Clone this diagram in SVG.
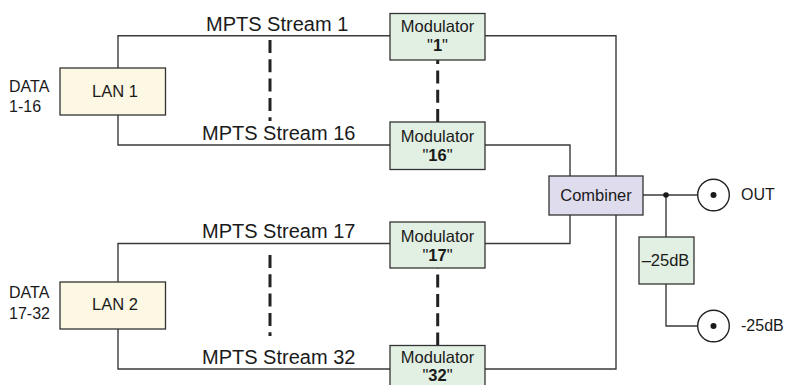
<svg xmlns="http://www.w3.org/2000/svg" width="785" height="385" viewBox="0 0 785 385">
<style>
text{font-family:"Liberation Sans",Arial,sans-serif;fill:#1a1a1a}
.box{stroke:#333;stroke-width:1.3}
.mod{fill:#e1f0e3}
.lan{fill:#fcf8e3}
.comb{fill:#dfdcee}
.t{font-size:16.5px;text-anchor:middle}
.b{font-weight:bold}
.lbl{font-size:16px}
.mp{font-size:20px}
.w{fill:none;stroke:#3a3a3a;stroke-width:1.4}
.d{fill:none;stroke:#222;stroke-width:3;stroke-dasharray:13 6.3}
</style>
<rect width="785" height="385" fill="#fff"/>
<g id="connectors">
<polyline class="w" points="118,68 118,35.7 390,35.7"/>
<polyline class="w" points="118,115 118,145 390,145"/>
<polyline class="w" points="118,282 118,243.5 390,243.5"/>
<polyline class="w" points="118,329 118,369 390,369"/>
<polyline class="w" points="485,35.7 616,35.7 616,176"/>
<polyline class="w" points="485,145 570,145 570,176"/>
<polyline class="w" points="485,243.5 570,243.5 570,215"/>
<polyline class="w" points="485,369 616,369 616,215"/>
<line class="w" x1="643" y1="195" x2="697.7" y2="195"/>
<line class="w" x1="666" y1="195" x2="666" y2="237"/>
<polyline class="w" points="666,284 666,326 697.7,326"/>
<circle cx="666" cy="195" r="2.8" fill="#1a1a1a"/>
<line class="d" x1="270" y1="40" x2="270" y2="121"/>
<line class="d" x1="270" y1="255" x2="270" y2="336"/>
<line class="d" x1="437.7" y1="122" x2="437.7" y2="60"/>
<line class="d" x1="437.7" y1="345.5" x2="437.7" y2="268"/>
</g>
<g id="lan1">
<rect class="box lan" x="60" y="68" width="105.5" height="47"/>
<text class="t" x="115" y="97">LAN 1</text>
<text class="lbl" x="9" y="92">DATA</text>
<text class="lbl" x="9" y="112">1-16</text>
</g>
<g id="lan2">
<rect class="box lan" x="60" y="282" width="105.5" height="47"/>
<text class="t" x="115" y="310">LAN 2</text>
<text class="lbl" x="9" y="297.5">DATA</text>
<text class="lbl" x="9" y="318.5">17-32</text>
</g>
<g id="labels">
<text class="mp" x="206" y="31">MPTS Stream 1</text>
<text class="mp" x="202" y="140">MPTS Stream 16</text>
<text class="mp" x="202" y="237.5">MPTS Stream 17</text>
<text class="mp" x="202" y="363.5">MPTS Stream 32</text>
</g>
<g id="mod1">
<rect class="box mod" x="390" y="13.5" width="95" height="46.5"/>
<text class="t" x="437.5" y="32">Modulator</text>
<text class="t" x="437.5" y="51"><tspan>"</tspan><tspan class="b">1</tspan><tspan>"</tspan></text>
</g>
<g id="mod16">
<rect class="box mod" x="390" y="122" width="95" height="47.5"/>
<text class="t" x="437.5" y="141.5">Modulator</text>
<text class="t" x="437.5" y="161"><tspan>"</tspan><tspan class="b">16</tspan><tspan>"</tspan></text>
</g>
<g id="mod17">
<rect class="box mod" x="390" y="222" width="95" height="46"/>
<text class="t" x="437.5" y="241.5">Modulator</text>
<text class="t" x="437.5" y="261"><tspan>"</tspan><tspan class="b">17</tspan><tspan>"</tspan></text>
</g>
<g id="mod32">
<rect class="box mod" x="390" y="345.5" width="95" height="47"/>
<text class="t" x="437.5" y="362.5">Modulator</text>
<text class="t" x="437.5" y="380.5"><tspan>"</tspan><tspan class="b">32</tspan><tspan>"</tspan></text>
</g>
<g id="combiner">
<rect class="box comb" x="549" y="176" width="94" height="39"/>
<text class="t" x="596" y="201">Combiner</text>
</g>
<g id="att">
<rect class="box mod" x="639" y="237" width="55" height="47"/>
<text class="t" x="665.5" y="266">–25dB</text>
</g>
<g id="out">
<circle cx="713.5" cy="195" r="15.8" fill="#fff" stroke="#222" stroke-width="1.4"/>
<circle cx="713.5" cy="195" r="3" fill="#1a1a1a"/>
<text class="lbl" x="741" y="200">OUT</text>
</g>
<g id="out25">
<circle cx="713.5" cy="326" r="15.8" fill="#fff" stroke="#222" stroke-width="1.4"/>
<circle cx="713.5" cy="326" r="3" fill="#1a1a1a"/>
<text class="lbl" x="741" y="331">-25dB</text>
</g>
</svg>
